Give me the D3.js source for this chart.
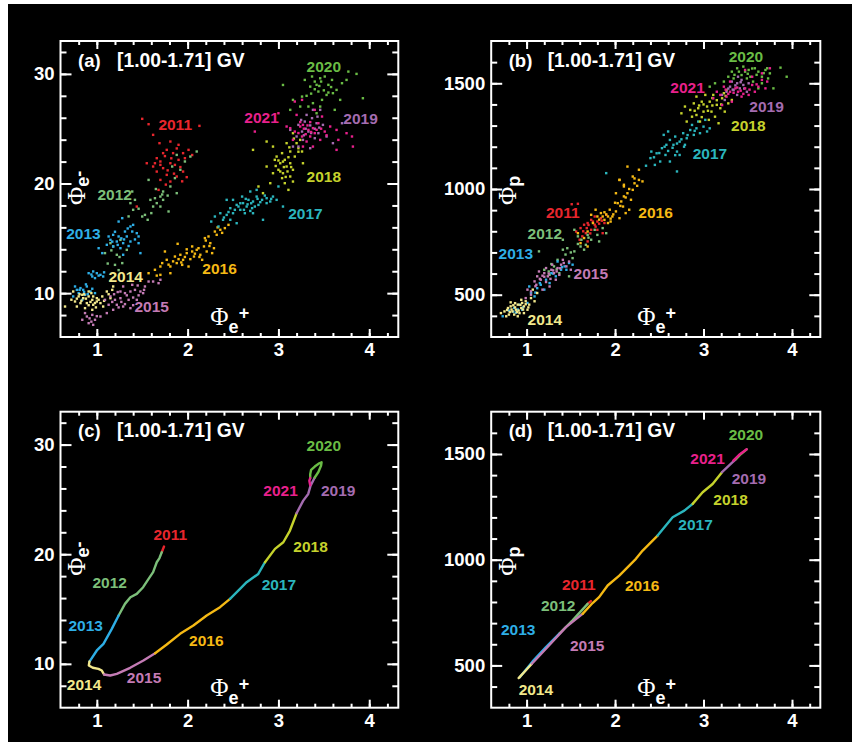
<!DOCTYPE html>
<html>
<head>
<meta charset="utf-8">
<title></title>
<script src="https://cdnjs.cloudflare.com/ajax/libs/d3/7.8.5/d3.min.js"></script>
<style>
  body { margin: 0; background: #fff; }
</style>
</head>
<body>
<script>
const width = 852;
const height = 742;

const years = [2011, 2012, 2013, 2014, 2015, 2016, 2017, 2018, 2019, 2020, 2021];
const yearColors = ['#e8262d', '#7cbf7a', '#2eaee6', '#f2e88c', '#c47bb5', '#f5b914',
                    '#2bb5bd', '#c5d22c', '#a46cb0', '#6abc45', '#e8208c'];

// (a) Phi_e+ vs Phi_e-, one array per year
const a2011 = [[1.50,25.90],[1.57,25.41],[2.13,25.26],[1.62,24.44],[1.69,23.68],[1.81,23.83],[1.90,23.53],[1.77,23.07],[1.73,22.77],[1.84,22.77],[1.95,22.77],[1.66,22.31],[1.70,22.01],[1.81,21.85],[1.90,22.16],[1.97,22.31],[1.62,21.55],[1.73,21.40],[1.86,21.70],[1.95,21.09],[1.66,21.09],[1.77,20.79],[1.88,20.64],[1.99,20.58],[1.70,20.33],[1.81,20.18],[1.68,19.42],[1.44,17.90],[1.55,21.85],[2.01,23.07],[1.64,21.85],[1.75,22.5],[1.82,22.3],[1.78,21.2],[1.92,21.5],[1.85,20.9],[1.70,21.7],[1.94,20.2],[1.76,19.9],[2.05,22.6],[1.88,23.2]];
const a2012 = [[2.10,22.92],[2.03,22.46],[1.97,22.01],[1.88,22.61],[1.83,21.55],[1.92,21.25],[1.86,20.49],[1.81,19.73],[1.73,19.27],[1.70,18.81],[1.64,18.66],[1.59,18.51],[1.66,18.21],[1.73,18.51],[1.70,17.90],[1.62,17.90],[1.88,19.12],[1.79,17.45],[1.57,20.33],[1.53,17.14],[1.50,16.99],[1.56,16.69],[1.39,19.27],[1.42,18.51],[1.37,18.21],[1.40,17.60],[1.15,14.56],[1.09,13.65],[1.18,14.26],[1.26,14.86],[1.33,13.95],[1.22,13.50],[1.20,12.58],[1.28,12.74],[1.72,19.0],[1.65,19.5],[1.78,18.9],[1.60,17.3],[1.46,17.7],[1.35,17.0],[1.25,13.3],[1.16,13.9],[1.12,12.7],[1.24,12.1]];
const a2013 = [[1.28,16.84],[1.24,16.53],[1.37,16.08],[1.40,16.23],[1.31,15.62],[1.39,15.62],[1.44,15.47],[1.18,15.32],[1.13,15.17],[1.24,15.17],[1.33,15.17],[1.46,15.17],[1.15,14.86],[1.22,14.71],[1.29,14.56],[1.37,14.71],[1.46,14.56],[1.18,14.26],[1.26,14.10],[1.11,14.41],[1.48,13.65],[1.29,13.50],[1.02,14.10],[1.06,13.65],[0.91,11.82],[0.96,11.98],[1.00,11.82],[1.04,11.67],[0.95,11.52],[0.98,11.37],[1.07,11.52],[0.76,10.61],[0.82,10.46],[0.85,10.30],[0.89,10.61],[0.80,10.00],[0.87,9.85],[0.93,10.15],[0.74,9.70],[0.98,10.00],[0.84,9.39],[1.20,15.6],[1.34,15.9],[1.27,15.0],[1.42,14.9],[1.17,14.7],[1.30,14.9],[1.35,14.3],[1.23,14.4],[1.08,11.9],[1.02,11.6],[0.94,11.7],[0.86,10.1],[0.81,10.3],[0.90,9.9],[0.78,10.3],[0.95,10.4],[0.88,10.8]];
const a2014 = [[0.74,10.15],[0.80,9.70],[0.85,9.54],[0.91,9.70],[0.95,9.39],[1.00,9.54],[1.06,9.70],[0.82,9.09],[0.89,9.09],[0.96,8.94],[1.04,9.09],[0.76,9.24],[0.87,8.63],[0.95,8.48],[0.84,9.85],[1.11,10.15],[1.17,10.30],[1.15,9.54],[1.18,10.61],[0.65,8.78],[0.78,8.78],[1.07,8.78],[0.91,10.15],[1.00,9.24],[0.96,9.70],[0.78,9.5],[0.83,9.3],[0.88,9.5],[0.93,9.2],[0.98,9.1],[1.02,9.4],[0.86,9.9],[0.81,9.9],[0.91,8.9],[0.99,8.7],[1.08,9.3],[0.72,9.4],[1.13,9.9],[0.94,10.0]];
const a2015 = [[0.84,7.57],[0.89,7.87],[0.95,8.02],[0.98,7.57],[1.04,7.87],[0.91,7.26],[0.96,7.11],[0.87,8.18],[1.11,8.18],[1.09,9.39],[1.15,9.70],[1.20,9.39],[1.26,9.54],[1.31,10.00],[1.37,10.15],[1.42,10.30],[1.48,10.15],[1.29,10.61],[1.39,10.76],[1.35,9.39],[1.22,8.94],[1.29,8.78],[1.37,8.63],[1.18,8.48],[1.44,9.39],[1.51,10.00],[1.53,10.61],[1.57,11.06],[1.62,11.06],[1.68,10.91],[1.70,11.22],[1.26,10.15],[1.13,8.94],[1.19,9.9],[1.23,10.1],[1.33,9.8],[1.40,9.6],[1.46,9.8],[1.27,9.2],[1.31,9.0],[1.40,8.9],[1.24,8.7],[0.92,7.7],[1.00,7.9],[0.94,7.4],[1.17,9.2],[1.45,10.7],[1.52,10.3]];
const a2016 = [[1.57,11.82],[1.64,12.13],[1.70,11.67],[1.72,12.74],[1.77,13.04],[1.81,12.43],[1.86,13.34],[1.88,12.74],[1.92,13.50],[1.95,13.04],[1.99,13.65],[2.01,12.43],[2.05,13.80],[2.07,13.34],[2.10,13.95],[2.14,13.50],[2.18,14.26],[2.16,13.04],[2.21,13.80],[2.25,14.56],[2.29,14.10],[2.23,15.17],[2.32,15.32],[2.36,15.78],[2.41,15.93],[2.45,16.23],[1.81,11.82],[1.94,12.58],[2.05,14.26],[2.19,15.02],[2.27,13.65],[2.30,15.62],[1.89,14.50],[1.70,12.43],[1.75,13.80],[1.84,12.9],[1.90,13.1],[1.97,13.3],[2.03,13.1],[2.08,13.6],[2.12,14.1],[1.93,12.8],[1.79,12.6],[1.99,14.0],[2.13,13.3],[2.24,14.3],[2.38,15.5],[2.33,16.0],[1.66,11.6],[2.20,14.8]];
const a2017 = [[2.26,16.53],[2.30,16.99],[2.36,17.29],[2.39,16.69],[2.43,17.14],[2.47,17.75],[2.50,17.29],[2.54,18.05],[2.58,17.60],[2.61,18.21],[2.65,17.90],[2.67,18.51],[2.71,17.75],[2.72,18.36],[2.76,18.81],[2.78,18.05],[2.82,18.51],[2.87,18.66],[2.91,18.36],[2.94,18.81],[2.98,18.51],[3.05,17.90],[2.50,18.51],[2.60,18.81],[2.69,19.27],[2.63,17.29],[2.47,16.69],[2.54,16.38],[2.72,17.29],[2.34,16.08],[2.83,16.69],[2.76,19.42],[3.00,19.73],[2.87,18.21],[2.43,18.51],[2.52,17.6],[2.56,17.9],[2.62,17.6],[2.66,18.1],[2.70,18.2],[2.74,17.9],[2.80,18.3],[2.69,17.5],[2.58,18.2],[2.45,17.4],[2.77,18.6],[2.85,18.9],[2.92,18.6],[2.64,18.6],[2.40,16.9]];
const a2018 = [[2.72,23.07],[2.87,23.83],[2.94,23.37],[2.98,22.46],[3.04,22.77],[3.07,22.16],[3.02,21.85],[3.09,21.55],[3.13,21.85],[3.16,21.25],[3.00,21.25],[3.05,20.94],[2.94,20.94],[3.13,20.64],[3.07,20.03],[3.16,20.18],[2.91,20.03],[2.83,19.12],[2.78,19.73],[3.16,24.59],[3.20,23.68],[3.24,23.98],[3.26,22.92],[3.09,23.68],[3.13,22.92],[2.96,22.16],[3.04,20.49],[3.11,19.42],[2.87,21.55],[3.27,21.85],[3.18,22.46],[3.22,23.22],[3.02,21.1],[3.06,21.5],[3.10,21.1],[3.05,22.0],[3.11,22.4],[3.00,22.1],[3.14,21.5],[3.08,20.6],[2.97,21.6],[3.12,23.3],[3.22,22.9],[3.17,24.1]];
const a2019 = [[3.13,24.89],[3.22,25.35],[3.29,25.65],[3.37,25.96],[3.42,25.50],[3.33,24.74],[3.26,24.74],[3.20,24.29],[3.40,24.13],[3.46,26.72],[3.38,26.72],[3.53,24.29],[3.60,23.68],[3.22,23.37],[3.35,23.22],[3.16,23.37],[3.27,23.98],[3.44,24.59],[3.49,25.35],[3.70,25.50],[3.31,26.26],[3.30,25.0],[3.35,25.3],[3.40,25.0],[3.25,25.8],[3.36,24.6],[3.45,25.1],[3.28,24.4],[3.43,26.1]];
const a2020 = [[3.05,28.99],[3.16,27.63],[3.26,27.93],[3.29,29.45],[3.35,28.84],[3.40,29.30],[3.46,29.60],[3.51,29.76],[3.55,29.00],[3.59,29.45],[3.64,28.54],[3.70,29.15],[3.75,29.45],[3.77,30.21],[3.86,30.00],[3.93,27.78],[3.44,28.39],[3.48,27.63],[3.38,27.33],[3.33,27.02],[3.53,28.08],[3.60,28.24],[3.68,27.63],[3.24,27.02],[3.37,29.76],[3.46,27.02],[3.13,26.72],[3.42,26.41],[3.62,26.72],[3.40,28.6],[3.45,28.9],[3.50,28.5],[3.42,29.0],[3.55,28.3],[3.36,28.2],[3.31,28.0],[3.58,28.8],[3.47,29.3]];
const a2021 = [[3.00,26.41],[2.74,24.74],[3.18,27.48],[3.20,26.26],[3.24,25.20],[3.13,25.05],[3.18,24.74],[3.27,25.35],[3.33,24.89],[3.38,25.05],[3.44,25.50],[3.40,24.59],[3.35,24.29],[3.26,24.29],[3.16,23.98],[3.31,23.83],[3.46,23.98],[3.51,24.74],[3.57,25.20],[3.64,24.89],[3.66,23.98],[3.75,24.59],[3.81,24.29],[3.64,23.07],[3.82,23.37],[3.27,23.37],[3.38,23.37],[3.48,26.11],[3.26,27.63],[3.40,26.72],[3.09,25.20],[3.28,25.0],[3.32,25.3],[3.36,24.7],[3.30,24.5],[3.42,24.9],[3.35,25.6],[3.24,25.6],[3.47,25.0],[3.22,24.6],[3.53,24.4]];

// (b) Phi_e+ vs Phi_p
const b2011 = [[1.51,928],[1.58,930],[1.56,799],[1.61,815],[1.65,831],[1.69,839],[1.73,854],[1.77,831],[1.80,846],[1.84,862],[1.88,839],[1.73,807],[1.67,791],[1.60,760],[1.69,752],[1.80,807],[1.90,878],[1.77,870],[1.63,776],[1.86,791],[1.70,830],[1.75,846],[1.82,836],[1.68,815],[1.78,822],[1.64,800],[1.85,850],[1.72,790]];
const b2012 = [[1.14,705],[1.20,618],[1.26,594],[1.31,634],[1.35,665],[1.41,713],[1.46,720],[1.54,705],[1.61,728],[1.67,736],[1.73,760],[1.80,783],[1.86,815],[1.90,791],[1.77,807],[1.69,783],[1.58,776],[1.52,673],[1.41,760],[1.54,807],[1.65,713],[1.82,752],[1.37,602],[1.48,587],[1.62,760],[1.70,770],[1.58,740],[1.50,700],[1.44,690],[1.28,645],[1.34,620],[1.25,610]];
const b2013 = [[0.73,398],[0.86,437],[0.95,429],[1.01,461],[1.05,508],[1.12,531],[1.22,571],[1.28,602],[1.33,587],[1.39,618],[1.43,634],[1.48,650],[1.52,642],[1.26,555],[1.16,547],[1.35,657],[1.45,618],[1.09,492],[0.92,453],[1.20,524],[1.03,539],[0.85,420],[0.90,430],[0.96,440],[0.88,415],[1.10,510],[1.30,600],[1.40,630],[1.15,555],[0.80,425]];
const b2014 = [[0.75,421],[0.79,437],[0.82,445],[0.84,421],[0.88,429],[0.90,453],[0.94,437],[0.95,461],[0.97,445],[0.99,469],[0.80,406],[0.86,406],[0.92,413],[1.01,429],[1.03,453],[0.77,398],[1.05,484],[0.71,413],[0.97,413],[0.94,476],[1.09,469],[0.90,398],[0.82,464],[1.12,508],[1.07,524],[0.83,430],[0.87,440],[0.91,425],[0.85,450],[0.93,452],[0.96,430],[0.89,418],[0.81,418],[0.99,455],[0.87,460],[0.78,428],[1.02,440]];
const b2015 = [[0.99,484],[1.05,516],[1.11,547],[1.12,587],[1.16,571],[1.20,602],[1.24,587],[1.28,618],[1.31,602],[1.35,626],[1.39,642],[1.41,665],[1.45,634],[1.48,657],[1.33,571],[1.26,539],[1.18,524],[1.09,563],[1.22,626],[1.37,594],[1.01,524],[1.14,610],[1.50,618],[1.29,642],[1.15,575],[1.20,585],[1.25,600],[1.30,615],[1.34,610],[1.38,625],[1.22,560],[1.18,590],[1.27,575],[1.42,650],[1.05,500],[1.10,540]];
const b2016 = [[1.58,791],[1.65,768],[1.69,799],[1.75,839],[1.73,878],[1.80,870],[1.84,886],[1.88,854],[1.92,870],[1.94,902],[1.97,870],[2.01,894],[1.95,846],[2.03,933],[2.07,941],[2.10,965],[2.09,917],[2.14,980],[2.16,902],[2.18,949],[2.20,996],[2.22,1027],[2.10,1020],[2.05,1043],[2.01,980],[2.12,886],[1.61,744],[1.69,728],[1.78,902],[1.92,839],[2.27,1043],[2.05,862],[2.14,1106],[2.20,1059],[2.27,1091],[2.31,1036],[2.05,1043],[2.10,1012],[1.86,870],[1.90,880],[1.95,860],[1.82,855],[1.88,890],[1.98,880],[2.06,920],[2.12,960],[2.16,1000],[2.22,1050],[2.25,1015],[2.00,935]];
const b2017 = [[2.41,1177],[2.47,1169],[2.53,1193],[2.57,1161],[2.58,1209],[2.62,1232],[2.66,1209],[2.68,1248],[2.70,1177],[2.73,1224],[2.77,1264],[2.79,1209],[2.81,1240],[2.85,1279],[2.89,1256],[2.92,1287],[2.96,1264],[3.00,1295],[3.04,1272],[3.07,1287],[2.87,1303],[2.94,1319],[2.73,1161],[2.62,1130],[2.51,1130],[2.45,1114],[2.70,1083],[2.55,1256],[2.60,1272],[3.02,1327],[2.40,1146],[1.90,1075],[2.60,1180],[2.65,1195],[2.70,1215],[2.75,1235],[2.78,1200],[2.82,1255],[2.50,1170],[2.56,1200],[2.68,1160],[2.90,1275],[2.35,1110],[2.44,1150]];
const b2018 = [[2.75,1358],[2.79,1390],[2.85,1374],[2.89,1405],[2.92,1350],[2.94,1382],[2.98,1413],[3.00,1366],[3.04,1390],[3.07,1413],[3.09,1366],[3.13,1342],[3.15,1398],[3.19,1382],[3.21,1429],[3.24,1366],[3.28,1405],[3.32,1421],[2.96,1319],[3.06,1327],[3.17,1311],[2.87,1342],[2.81,1319],[3.02,1445],[3.11,1445],[2.92,1437],[3.26,1468],[3.23,1453],[2.95,1395],[3.00,1400],[3.05,1370],[3.10,1395],[3.15,1420],[2.90,1370],[3.20,1400],[3.25,1440],[2.98,1340],[3.10,1430]];
const b2019 = [[3.21,1445],[3.26,1460],[3.30,1484],[3.34,1468],[3.38,1500],[3.41,1476],[3.45,1492],[3.49,1460],[3.38,1445],[3.32,1508],[3.43,1516],[3.24,1421],[3.51,1500],[3.39,1531],[3.33,1470],[3.36,1490],[3.42,1505],[3.28,1475],[3.46,1475]];
const b2020 = [[3.07,1484],[3.13,1500],[3.28,1531],[3.32,1555],[3.38,1571],[3.43,1539],[3.47,1555],[3.51,1563],[3.53,1531],[3.58,1571],[3.62,1555],[3.66,1531],[3.70,1563],[3.72,1571],[3.75,1547],[3.79,1476],[3.87,1574],[3.94,1531],[3.66,1500],[3.56,1508],[3.45,1579],[3.34,1523],[3.23,1508],[3.73,1523],[3.62,1476],[3.49,1523],[3.40,1555],[3.50,1545],[3.55,1570],[3.60,1540],[3.35,1540],[3.68,1548]];
const b2021 = [[3.15,1460],[3.19,1445],[3.23,1484],[3.26,1437],[3.30,1460],[3.32,1413],[3.36,1476],[3.39,1460],[3.43,1437],[3.47,1476],[3.51,1445],[3.55,1492],[3.58,1460],[3.62,1484],[3.66,1516],[3.70,1476],[3.72,1508],[3.75,1571],[3.30,1508],[3.21,1397],[3.11,1429],[3.47,1563],[3.66,1547],[3.55,1531],[3.28,1450],[3.34,1455],[3.38,1480],[3.42,1465],[3.45,1450],[3.52,1470],[3.60,1495],[3.25,1470]];

// (c) smoothed track, Phi_e+ vs Phi_e-
const c2011 = [[1.74,20.70],[1.715,20.18]];
const c2012 = [[1.69,19.65],[1.66,19.27],[1.62,18.36],[1.57,17.75],[1.51,16.99],[1.44,16.38],[1.37,16.08],[1.31,15.47],[1.24,14.41]];
const c2013 = [[1.165,13.19],[1.073,11.82],[1.00,11.22],[0.919,10.21]];
const c2014 = [[0.912,9.85],[0.956,9.64],[1.018,9.54],[1.055,9.39],[1.08,9.03]];
const c2015 = [[1.147,8.94],[1.22,9.09],[1.367,9.64],[1.513,10.30],[1.642,10.97]];
const c2016 = [[1.77,11.76],[1.917,12.74],[2.063,13.50],[2.21,14.41],[2.357,15.17],[2.467,15.93]];
const c2017 = [[2.577,16.84],[2.65,17.45],[2.778,18.20],[2.852,19.27]];
const c2018 = [[2.962,20.49],[3.054,21.09],[3.127,22.16],[3.20,23.74]];
const c2019 = [[3.273,24.89],[3.328,25.50],[3.354,26.26],[3.40,27.00]];
const c2020 = [[3.44,27.50],[3.47,28.10],[3.475,28.39],[3.45,28.30],[3.40,28.00],[3.36,27.70],[3.35,27.30],[3.35,26.95]];
const c2021 = [[3.34,26.70],[3.35,26.30]];

// (d) smoothed track, Phi_e+ vs Phi_p
const d2011 = [[1.727,804],[1.69,791]];
const d2012 = [[1.52,713],[1.37,650]];
const d2013 = [[1.219,587],[1.068,519],[0.925,445]];
const d2014 = [[0.91,440],[0.99,476],[1.06,508]];
const d2015 = [[1.219,579],[1.445,681],[1.633,744]];
const d2016 = [[1.746,795],[1.82,823],[1.916,878],[2.048,925],[2.236,1004],[2.312,1043],[2.481,1114]];
const d2017 = [[2.651,1201],[2.783,1232],[2.877,1264]];
const d2018 = [[2.99,1319],[3.103,1358],[3.209,1414]];
const d2019 = [[3.329,1461],[3.367,1476]];
const d2020 = [[3.424,1500],[3.488,1522]];
const d2021 = [[3.40,1495],[3.337,1469]];

// year label anchors (data units, start of text / baseline)
const labelA = [[1.678,24.9],[1.007,18.5],[0.663,14.9],[1.128,11.06],[1.414,8.27],[2.162,11.73],[3.108,16.75],[3.31,20.18],[3.714,25.44],[3.31,30.21],[2.624,25.56]];
const labelB = [[1.219,862],[1.011,763],[0.683,669],[1.011,358],[1.531,574],[2.263,862],[2.877,1141],[3.311,1272],[3.518,1366],[3.284,1602],[2.625,1456]];
const labelC = [[1.623,21.34],[0.952,16.90],[0.688,12.98],[0.670,7.57],[1.330,8.24],[2.016,11.67],[2.815,16.75],[3.164,20.18],[3.468,25.35],[3.310,29.39],[2.833,25.35]];
const labelD = [[1.400,859],[1.162,757],[0.710,646],[0.910,358],[1.490,568],[2.112,850],[2.715,1141],[3.111,1261],[3.318,1358],[3.284,1568],[2.851,1453]];

const xTicks = [1, 2, 3, 4];
const xMinorTicks = d3.range(0.8, 4.3, 0.2);
const yTicksE = [10, 20, 30];
const yMinorE = d3.range(8, 33, 2);
const yTicksP = [500, 1000, 1500];
const yMinorP = d3.range(400, 1700, 100);

const panels = [
  {tag: '(a)', left: 60.5, top: 41, right: 398.3, bottom: 337, yDomain: [6, 33], yTicks: yTicksE, yMinor: yMinorE, ySub: 'e', ySup: '-', kind: 'dots', data: [a2011,a2012,a2013,a2014,a2015,a2016,a2017,a2018,a2019,a2020,a2021], labels: labelA},
  {tag: '(b)', left: 491.2, top: 41, right: 820.3, bottom: 337, yDomain: [300, 1700], yTicks: yTicksP, yMinor: yMinorP, ySub: 'p', ySup: '', kind: 'dots', data: [b2011,b2012,b2013,b2014,b2015,b2016,b2017,b2018,b2019,b2020,b2021], labels: labelB},
  {tag: '(c)', left: 60.5, top: 411.7, right: 398.3, bottom: 707.7, yDomain: [6, 33], yTicks: yTicksE, yMinor: yMinorE, ySub: 'e', ySup: '-', kind: 'line', data: [c2011,c2012,c2013,c2014,c2015,c2016,c2017,c2018,c2019,c2020,c2021], labels: labelC},
  {tag: '(d)', left: 491.2, top: 411.7, right: 820.3, bottom: 707.7, yDomain: [300, 1700], yTicks: yTicksP, yMinor: yMinorP, ySub: 'p', ySup: '', kind: 'line', data: [d2011,d2012,d2013,d2014,d2015,d2016,d2017,d2018,d2019,d2020,d2021], labels: labelD}
];

const sans = "'Liberation Sans', Arial, Helvetica, sans-serif";
const serif = "'Liberation Serif', 'Times New Roman', serif";

const svg = d3.select('body').append('svg')
  .attr('width', width)
  .attr('height', height);

svg.append('rect')
  .attr('x', 8).attr('y', 4)
  .attr('width', width - 8).attr('height', height - 4)
  .attr('fill', '#000');

const styleAxis = (g) => {
  g.select('.domain').remove();
  g.selectAll('.tick line').attr('stroke', '#fff').attr('stroke-width', 2);
  g.selectAll('.tick text')
    .attr('fill', '#fff')
    .attr('font-family', sans)
    .attr('font-weight', 'bold')
    .attr('font-size', '18.5px');
};

panels.forEach((p) => {
  const x = d3.scaleLinear().domain([0.6, 4.32]).range([p.left, p.right]);
  const y = d3.scaleLinear().domain(p.yDomain).range([p.bottom, p.top]);
  const g = svg.append('g');

  // minor ticks
  g.append('g').attr('transform', `translate(0,${p.bottom})`)
    .call(d3.axisBottom(x).tickValues(xMinorTicks).tickSize(-4).tickFormat('')).call(styleAxis);
  g.append('g').attr('transform', `translate(0,${p.top})`)
    .call(d3.axisTop(x).tickValues(xMinorTicks).tickSize(-4).tickFormat('')).call(styleAxis);
  g.append('g').attr('transform', `translate(${p.left},0)`)
    .call(d3.axisLeft(y).tickValues(p.yMinor).tickSize(-6).tickFormat('')).call(styleAxis);
  g.append('g').attr('transform', `translate(${p.right},0)`)
    .call(d3.axisRight(y).tickValues(p.yMinor).tickSize(-6).tickFormat('')).call(styleAxis);

  // major ticks with labels
  g.append('g').attr('transform', `translate(0,${p.bottom})`)
    .call(d3.axisBottom(x).tickValues(xTicks).tickSize(-8).tickPadding(6).tickFormat(d3.format('d'))).call(styleAxis);
  g.append('g').attr('transform', `translate(0,${p.top})`)
    .call(d3.axisTop(x).tickValues(xTicks).tickSize(-8).tickFormat('')).call(styleAxis);
  g.append('g').attr('transform', `translate(${p.left},0)`)
    .call(d3.axisLeft(y).tickValues(p.yTicks).tickSize(-11).tickPadding(6).tickFormat(d3.format('d'))).call(styleAxis);
  g.append('g').attr('transform', `translate(${p.right},0)`)
    .call(d3.axisRight(y).tickValues(p.yTicks).tickSize(-11).tickFormat('')).call(styleAxis);

  // data
  if (p.kind === 'dots') {
    p.data.forEach((pts, i) => {
      g.append('g').selectAll('rect')
        .data(pts).enter()
        .append('rect')
        .attr('x', (d) => x(d[0]) - 1.2)
        .attr('y', (d) => y(d[1]) - 1.2)
        .attr('width', 2.4)
        .attr('height', 2.4)
        .attr('fill', yearColors[i]);
    });
  } else {
    const line = d3.line().x((d) => x(d[0])).y((d) => y(d[1])).curve(d3.curveLinear);
    p.data.forEach((pts, i) => {
      const seg = i > 0 ? [p.data[i - 1][p.data[i - 1].length - 1]].concat(pts) : pts;
      g.append('path')
        .datum(seg)
        .attr('fill', 'none')
        .attr('stroke', yearColors[i])
        .attr('stroke-width', 2.4)
        .attr('stroke-linejoin', 'round')
        .attr('stroke-linecap', 'round')
        .attr('d', line);
    });
  }

  // year labels
  g.append('g').selectAll('text')
    .data(p.labels).enter()
    .append('text')
    .attr('x', (d) => x(d[0]))
    .attr('y', (d) => y(d[1]))
    .attr('fill', (d, i) => yearColors[i])
    .attr('font-family', sans)
    .attr('font-weight', 'bold')
    .attr('font-size', '15.5px')
    .text((d, i) => years[i]);

  // frame
  g.append('rect')
    .attr('x', p.left).attr('y', p.top)
    .attr('width', p.right - p.left).attr('height', p.bottom - p.top)
    .attr('fill', 'none').attr('stroke', '#fff').attr('stroke-width', 2);

  // title
  g.append('text')
    .attr('x', p.left + 17.5).attr('y', p.top + 25.5)
    .attr('fill', '#fff').attr('font-family', sans).attr('font-weight', 'bold').attr('font-size', '18.5px')
    .text(p.tag);
  g.append('text')
    .attr('x', p.left + 56.5).attr('y', p.top + 25.5)
    .attr('fill', '#fff').attr('font-family', sans).attr('font-weight', 'bold').attr('font-size', '19.3px')
    .text('[1.00-1.71] GV');

  // x axis name
  const xl = g.append('text')
    .attr('x', x(2.25)).attr('y', p.bottom - 12)
    .attr('fill', '#fff');
  xl.append('tspan').attr('font-family', serif).attr('font-size', '25px').text('Φ');
  xl.append('tspan').attr('font-family', sans).attr('font-weight', 'bold').attr('font-size', '18px').attr('dy', 8).text('e');
  xl.append('tspan').attr('font-family', sans).attr('font-weight', 'bold').attr('font-size', '18px').attr('dy', -14).text('+');

  // y axis name
  const yl = g.append('text')
    .attr('transform', `translate(${p.left + 24.5},${p.top + 164}) rotate(-90)`)
    .attr('fill', '#fff');
  yl.append('tspan').attr('font-family', serif).attr('font-size', '25px').text('Φ');
  yl.append('tspan').attr('font-family', sans).attr('font-weight', 'bold').attr('font-size', '18px').attr('dy', 4).text(p.ySub);
  if (p.ySup) {
    yl.append('tspan').attr('font-family', sans).attr('font-weight', 'bold').attr('font-size', '18px').attr('dy', -4).text(p.ySup);
  }
});
</script>
</body>
</html>
